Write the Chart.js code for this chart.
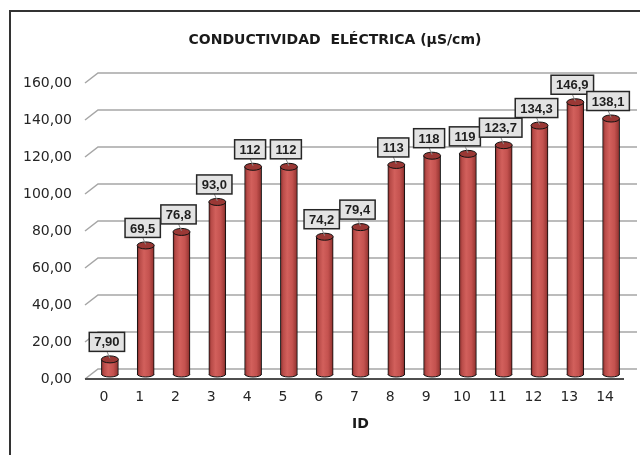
<!DOCTYPE html>
<html>
<head>
<meta charset="utf-8">
<script src="https://cdn.jsdelivr.net/npm/chart.js@4/dist/chart.umd.min.js"></script>
<style>
  html, body { margin: 0; padding: 0; background: #fff; }
  #graphDiv { width: 640px; height: 455px; }
</style>
</head>
<body>
<div id="graphDiv"><canvas id="dataChart" width="640" height="455"></canvas></div>
<script>
// Données
const ids = ['0', '1', '2', '3', '4', '5', '6', '7', '8', '9', '10', '11', '12', '13', '14'];
const conductividad = [7.90, 69.5, 76.8, 93.0, 112, 112, 74.2, 79.4, 113, 118, 119, 123.7, 134.3, 146.9, 138.1];
const etiquetas = ['7,90', '69,5', '76,8', '93,0', '112', '112', '74,2', '79,4', '113', '118', '119', '123,7', '134,3', '146,9', '138,1'];
const yTickLabels = ['0,00', '20,00', '40,00', '60,00', '80,00', '100,00', '120,00', '140,00', '160,00'];
const titulo = 'CONDUCTIVIDAD  ELÉCTRICA (µS/cm)';

// décalage de profondeur (effet 3D)
const DX = 6;
const DY = 5;

function cylinderFill(ctx, x, half) {
    const g = ctx.createLinearGradient(x - half, 0, x + half, 0);
    g.addColorStop(0, '#7e2725');
    g.addColorStop(0.15, '#b84b48');
    g.addColorStop(0.4, '#d2605c');
    g.addColorStop(0.7, '#c4524f');
    g.addColorStop(0.9, '#a03b38');
    g.addColorStop(1, '#6e2220');
    return g;
}

const depthPlugin = {
    id: 'depth',
    beforeDraw(chart) {
        const ctx = chart.ctx;
        ctx.save();
        ctx.fillStyle = '#fff';
        ctx.fillRect(0, 0, chart.width, chart.height);
        ctx.strokeStyle = '#333';
        ctx.lineWidth = 2;
        ctx.strokeRect(10, 11, 700, 600);
        //titre
        ctx.fillStyle = '#1a1a1a';
        ctx.font = 'bold 14px "DejaVu Sans", sans-serif';
        ctx.textAlign = 'center';
        ctx.textBaseline = 'middle';
        ctx.fillText(titulo, 335, 40);
        ctx.restore();
    },
    beforeDatasetsDraw(chart) {
        const ctx = chart.ctx;
        const a = chart.chartArea;
        const y = chart.scales.y;
        ctx.save();
        ctx.strokeStyle = '#a6a6a6';
        ctx.lineWidth = 1.5;
        y.ticks.forEach(t => {
            const py = y.getPixelForValue(t.value);
            ctx.beginPath();
            ctx.moveTo(a.left - DX - 1, py + DY);
            ctx.lineTo(a.left + DX, py - DY);
            ctx.lineTo(a.right + 8, py - DY);
            ctx.stroke();
        });
        //bord avant du sol
        const p0 = y.getPixelForValue(0);
        ctx.strokeStyle = '#4d4d4d';
        ctx.lineWidth = 2;
        ctx.beginPath();
        ctx.moveTo(a.left - DX - 1, p0 + DY);
        ctx.lineTo(a.right - 5, p0 + DY);
        ctx.stroke();
        ctx.restore();
    },
    afterDatasetsDraw(chart) {
        const ctx = chart.ctx;
        const meta = chart.getDatasetMeta(0);
        ctx.save();
        meta.data.forEach((el, i) => {
            const half = el.width / 2;
            //fond arrondi
            ctx.beginPath();
            ctx.ellipse(el.x, el.base, half, 3, 0, 0, Math.PI);
            ctx.fillStyle = cylinderFill(ctx, el.x, half);
            ctx.fill();
            ctx.strokeStyle = '#111';
            ctx.lineWidth = 1;
            ctx.stroke();
            //dessus
            ctx.beginPath();
            ctx.ellipse(el.x, el.y, half, 3.5, 0, 0, Math.PI * 2);
            ctx.fillStyle = '#9a3835';
            ctx.fill();
            ctx.stroke();
        });
        //étiquettes
        ctx.font = 'bold 13px "Liberation Sans", Arial, sans-serif';
        ctx.textAlign = 'center';
        ctx.textBaseline = 'middle';
        meta.data.forEach((el, i) => {
            const txt = etiquetas[i];
            const w = ctx.measureText(txt).width + 10;
            const h = 19;
            const cx = el.x - 3;
            const bottom = el.y - 8;
            ctx.strokeStyle = '#8c8c8c';
            ctx.lineWidth = 1;
            ctx.beginPath();
            ctx.moveTo(cx, bottom);
            ctx.lineTo(el.x, el.y - 1);
            ctx.stroke();
            ctx.fillStyle = '#e3e3e3';
            ctx.fillRect(cx - w / 2, bottom - h, w, h);
            ctx.strokeStyle = '#262626';
            ctx.lineWidth = 1.5;
            ctx.strokeRect(cx - w / 2, bottom - h, w, h);
            ctx.fillStyle = '#1f1f1f';
            ctx.fillText(txt, cx, bottom - h / 2 + 1);
        });
        ctx.restore();
    }
};

const ctx = document.getElementById('dataChart').getContext('2d');

const dataChart = new Chart(ctx, {
    type: 'bar',
    data: {
        labels: ids,
        datasets: [{
            label: 'Conductividad',
            data: conductividad,
            backgroundColor: (c) => {
                const chart = c.chart;
                if (!chart.chartArea || c.dataIndex === undefined) {
                    return '#c0504d';
                }
                const x = chart.scales.x.getPixelForValue(c.dataIndex);
                return cylinderFill(chart.ctx, x, 8.5);
            },
            borderColor: '#111',
            borderWidth: { left: 1, right: 1, top: 0, bottom: 0 },
            borderSkipped: false,
            barThickness: 17
        }]
    },
    options: {
        responsive: false,
        animation: false,
        devicePixelRatio: 1,
        layout: {
            padding: { left: 0, right: 11, top: 78, bottom: 0 }
        },
        plugins: {
            legend: { display: false },
            tooltip: { enabled: false },
            title: { display: false }
        },
        scales: {
            x: {
                grid: { display: false, drawTicks: false },
                border: { display: false },
                ticks: {
                    color: '#262626',
                    font: { family: '"DejaVu Sans", sans-serif', size: 14 },
                    padding: 15,
                    labelOffset: -DX
                },
                title: {
                    display: true,
                    text: 'ID',
                    color: '#1a1a1a',
                    font: { family: '"DejaVu Sans", sans-serif', size: 14, weight: 'bold' },
                    padding: { top: 0, bottom: 22 }
                },
                afterFit(scale) {
                    scale.height = 81;
                }
            },
            y: {
                min: 0,
                max: 160,
                grid: { display: false, drawTicks: false },
                border: { display: false },
                ticks: {
                    stepSize: 20,
                    color: '#262626',
                    font: { family: '"DejaVu Sans", sans-serif', size: 14 },
                    padding: 20,
                    labelOffset: DY,
                    callback: (v, i) => yTickLabels[i]
                },
                afterFit(scale) {
                    scale.width = 92;
                }
            }
        }
    },
    plugins: [depthPlugin]
});
</script>
</body>
</html>
